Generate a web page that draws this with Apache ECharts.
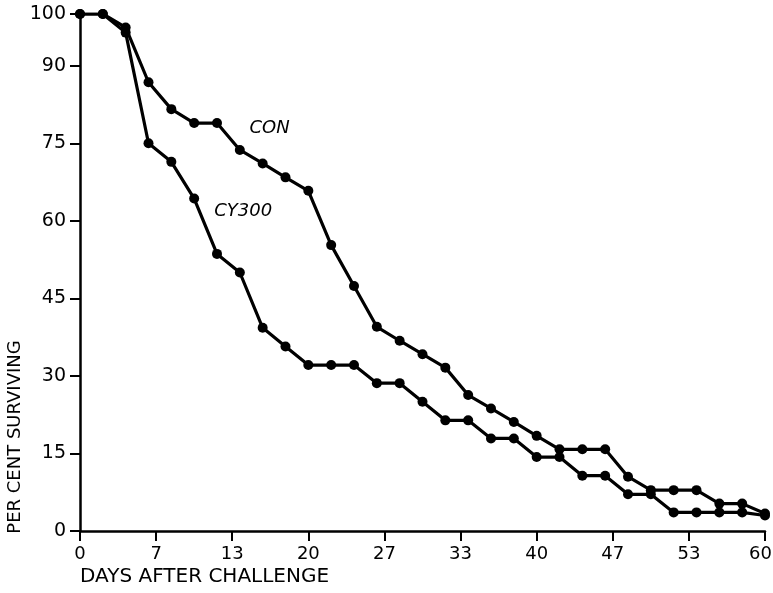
<!DOCTYPE html>
<html>
<head>
<meta charset="utf-8">
<script src="https://cdn.jsdelivr.net/npm/echarts@6/dist/echarts.min.js"></script>
<style>
html,body{margin:0;padding:0;background:#fff;}
#chart{width:773px;height:593px;}
</style>
</head>
<body>
<div id="chart"></div>
<script>
const days = [0,2,4,6,8,10,12,14,16,18,20,22,24,26,28,30,32,34,36,38,40,42,44,46,48,50,52,54,56,58,60];
const conValues = [100,100,97.4,86.8,81.6,78.9,78.9,73.7,71.1,68.4,65.8,55.3,47.4,39.5,36.8,34.2,31.6,26.3,23.7,21.1,18.4,15.8,15.8,15.8,10.5,7.9,7.9,7.9,5.3,5.3,3.4];
const cy300Values = [100,100,96.4,75,71.4,64.3,53.6,50,39.3,35.7,32.1,32.1,32.1,28.6,28.6,25,21.4,21.4,17.9,17.9,14.3,14.3,10.7,10.7,7.1,7.1,3.6,3.6,3.6,3.6,3.0];
const xTickLabels = ['0','7','13','20','27','33','40','47','53','60'];
const yTickLabels = ['0','15','30','45','60','75','90','100'];
const seriesNames = ['CON','CY300'];

const conData = days.map((d,i)=>[d,conValues[i]]);
const cyData = days.map((d,i)=>[d,cy300Values[i]]);

const chart = echarts.init(document.getElementById('chart'));
const font = 'DejaVu Sans';
const lineStyle = {color:'#000', width:3.2};
chart.setOption({
  animation:false,
  backgroundColor:'#fff',
  grid:{left:80, right:8, top:14, bottom:62, containLabel:false, outerBoundsMode:'none'},
  xAxis:{
    type:'value', min:0, max:60, interval:20/3,
    axisLine:{show:true, lineStyle:{color:'#000', width:2.5}},
    axisTick:{show:true, inside:false, length:10, lineStyle:{color:'#000', width:2}},
    axisLabel:{margin:14, color:'#000', fontFamily:font, fontSize:18,
      formatter:(v)=>{const i=Math.round(v/(20/3));return i===xTickLabels.length-1?'{last|'+xTickLabels[i]+'}':xTickLabels[i];},
      rich:{last:{fontFamily:font, fontSize:18, color:'#000', padding:[0,9,0,0]}}},
    splitLine:{show:false}
  },
  yAxis:{
    type:'value', min:0, max:100, interval:15,
    axisLine:{show:true, lineStyle:{color:'#000', width:2.5}},
    axisTick:{show:true, inside:false, length:10, lineStyle:{color:'#000', width:2}},
    axisLabel:{margin:14, color:'#000', fontFamily:font, fontSize:19,
      formatter:(v)=>{const i=yTickLabels.indexOf(String(Math.round(v)));return i>=0?yTickLabels[i]:'';}},
    splitLine:{show:false}
  },
  series:[
    {name:seriesNames[0], type:'line', data:conData, symbol:'circle', symbolSize:10,
     itemStyle:{color:'#000'}, lineStyle:lineStyle, z:3,
     markPoint:{symbol:'circle', symbolSize:0, silent:true,
       label:{show:true, position:'inside', formatter:seriesNames[0], color:'#000', fontFamily:font, fontStyle:'italic', fontSize:18},
       data:[{coord:[16.6,77.8]}]}},
    {name:seriesNames[1], type:'line', data:cyData, symbol:'circle', symbolSize:10,
     itemStyle:{color:'#000'}, lineStyle:lineStyle, z:3,
     markPoint:{symbol:'circle', symbolSize:0, silent:true,
       label:{show:true, position:'inside', formatter:seriesNames[1], color:'#000', fontFamily:font, fontStyle:'italic', fontSize:18},
       data:[{coord:[14.3,61.9]}]}}
  ],
  graphic:[
    {type:'text', left:80, top:567, style:{text:'DAYS AFTER CHALLENGE', fill:'#000', font:'20px "DejaVu Sans"'}},
    {type:'text', x:15, y:437, rotation:Math.PI/2, style:{text:'PER CENT SURVIVING', fill:'#000', font:'18px "DejaVu Sans"', align:'center', verticalAlign:'middle'}}
  ]
});
</script>
</body>
</html>
